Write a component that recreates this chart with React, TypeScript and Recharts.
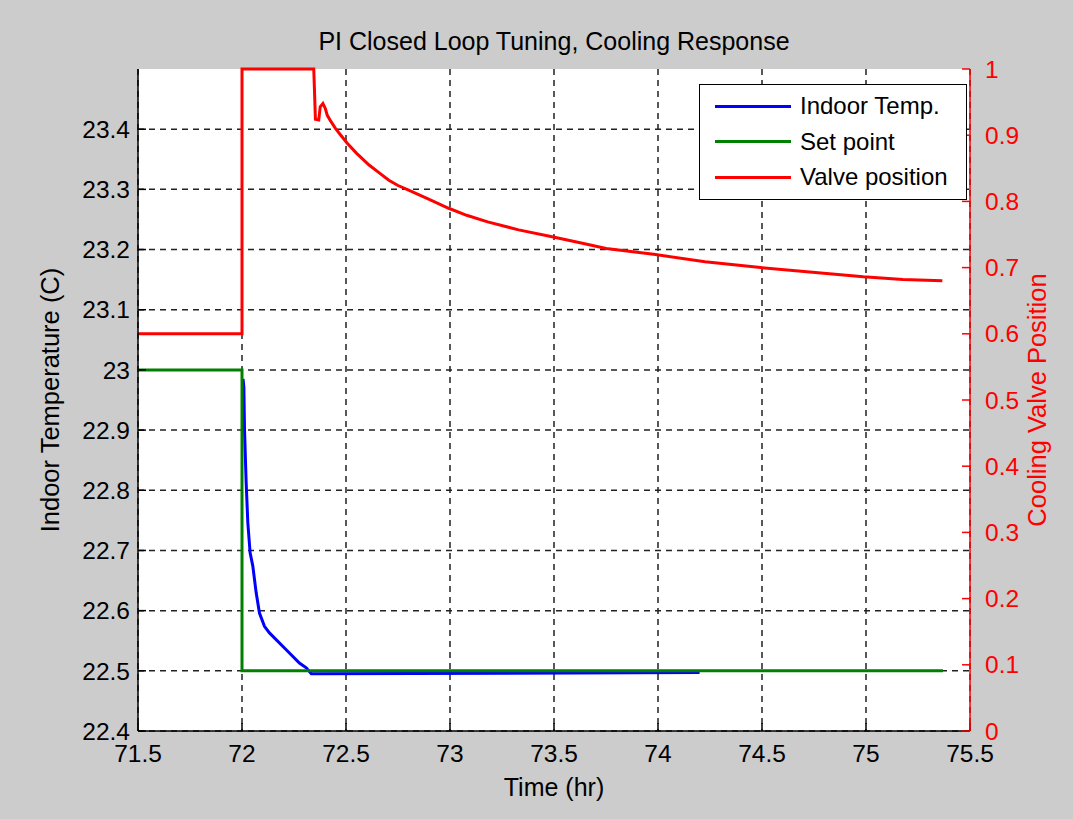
import React from 'react';
import { ComposedChart, Line, XAxis, YAxis, CartesianGrid, Legend } from 'recharts';

const FONT = '"Liberation Sans", Arial, Helvetica, sans-serif';

const timeTicks = [71.5, 72, 72.5, 73, 73.5, 74, 74.5, 75, 75.5];
const tempTicks = [22.4, 22.5, 22.6, 22.7, 22.8, 22.9, 23, 23.1, 23.2, 23.3, 23.4];
const valveTicks = [0, 0.1, 0.2, 0.3, 0.4, 0.5, 0.6, 0.7, 0.8, 0.9, 1];

const indoorTime = [72.005, 72.009, 72.012, 72.02, 72.028, 72.039, 72.052, 72.068, 72.084, 72.108, 72.132, 72.2125, 72.276, 72.309, 72.333, 72.364, 74.2];
const indoorTemp = [22.985, 22.971, 22.902, 22.813, 22.746, 22.696, 22.674, 22.63, 22.596, 22.574, 22.563, 22.535, 22.513, 22.505, 22.495, 22.495, 22.497];

const setTime = [71.5, 72, 72, 75.37];
const setTemp = [23, 23, 22.5, 22.5];

const valveTime = [
  71.5, 72, 72, 72.345, 72.353, 72.369, 72.376, 72.389, 72.401, 72.41, 72.425, 72.45, 72.475, 72.506,
  72.55, 72.611, 72.66, 72.706, 72.75, 72.801, 72.9, 72.991, 73.08, 73.181, 73.33, 73.485, 73.62, 73.751,
  73.979, 74.226, 74.493, 74.702, 74.987, 75.177, 75.367,
];
const valvePos = [
  0.6, 0.6, 1.0, 1.0, 0.924, 0.923, 0.943, 0.948, 0.94, 0.93, 0.922, 0.91, 0.9, 0.888,
  0.873, 0.855, 0.843, 0.832, 0.824, 0.817, 0.803, 0.79, 0.779, 0.769, 0.757, 0.747, 0.738, 0.729,
  0.72, 0.709, 0.7, 0.694, 0.686, 0.682, 0.68,
];

const seriesNames = ['Indoor Temp.', 'Set point', 'Valve position'];
const seriesColors = ['#0000ff', '#008000', '#ff0000'];

const zip = (ts: number[], vs: number[]) => ts.map((t, i) => ({ t, v: vs[i] }));
const indoorData = zip(indoorTime, indoorTemp);
const setData = zip(setTime, setTemp);
const valveData = zip(valveTime, valvePos);

const LegendBox = (props: any) => {
  const payload = props.payload || [];
  return (
    <div
      style={{
        width: 268,
        height: 116,
        border: '1.5px solid #000',
        background: '#fff',
        boxSizing: 'border-box',
        position: 'relative',
        fontFamily: FONT,
      }}
    >
      {payload.map((p: any, i: number) => (
        <div
          key={i}
          style={{
            position: 'absolute',
            left: 15,
            top: 21 + i * 35.5 - 15,
            height: 30,
            display: 'flex',
            alignItems: 'center',
            whiteSpace: 'nowrap',
          }}
        >
          <div style={{ width: 76, height: 3, background: p.color }} />
          <span style={{ marginLeft: 9, fontSize: 24, color: '#000', lineHeight: '30px' }}>{p.value}</span>
        </div>
      ))}
    </div>
  );
};

export default function App() {
  return (
    <div
      style={{
        position: 'absolute',
        left: 0,
        top: 0,
        width: 1073,
        height: 819,
        background: '#cccccc',
        fontFamily: FONT,
        overflow: 'hidden',
      }}
    >
      <div
        style={{
          position: 'absolute',
          left: 138,
          top: 27,
          width: 832,
          textAlign: 'center',
          fontSize: 25,
          lineHeight: '28px',
          color: '#000',
          zIndex: 2,
        }}
      >
        PI Closed Loop Tuning, Cooling Response
      </div>
      <ComposedChart
        width={1073}
        height={819}
        margin={{ top: 69, right: 0, bottom: 0, left: 0 }}
        style={{ fontFamily: FONT }}
      >
        <CartesianGrid
          xAxisId="main"
          yAxisId="temp"
          fill="#ffffff"
          stroke="#222"
          strokeWidth={1.5}
          strokeDasharray="6 5"
          horizontalValues={tempTicks}
          verticalValues={timeTicks}
        />
        <XAxis
          xAxisId="main"
          type="number"
          dataKey="t"
          domain={[71.5, 75.5]}
          ticks={timeTicks}
          interval={0}
          height={88}
          tickSize={-8}
          tickMargin={22}
          axisLine={{ stroke: '#000', strokeWidth: 1.5 }}
          tickLine={{ stroke: '#000', strokeWidth: 1.5 }}
          tick={{ fill: '#000', fontSize: 24.5 }}
          label={{ value: 'Time (hr)', position: 'insideTop', offset: 47, fill: '#000', fontSize: 25 }}
        />
        <XAxis
          xAxisId="top"
          orientation="top"
          type="number"
          dataKey="t"
          domain={[71.5, 75.5]}
          ticks={timeTicks}
          interval={0}
          height={0}
          tickSize={-8}
          tickFormatter={() => ''}
          axisLine={{ stroke: '#000', strokeWidth: 1.5 }}
          tickLine={{ stroke: '#000', strokeWidth: 1.5 }}
        />
        <YAxis
          yAxisId="temp"
          orientation="left"
          type="number"
          domain={[22.4, 23.5]}
          ticks={tempTicks}
          interval={0}
          width={138}
          tickSize={-8}
          tickMargin={16}
          axisLine={{ stroke: '#000', strokeWidth: 1.5 }}
          tickLine={{ stroke: '#000', strokeWidth: 1.5 }}
          tick={{ fill: '#000', fontSize: 24.5 }}
          label={{
            value: 'Indoor Temperature (C)',
            angle: -90,
            position: 'insideLeft',
            offset: 50,
            fill: '#000',
            fontSize: 25.5,
            style: { textAnchor: 'middle' },
          }}
        />
        <YAxis
          yAxisId="tempR"
          orientation="right"
          type="number"
          domain={[22.4, 23.5]}
          ticks={tempTicks}
          interval={0}
          width={0}
          tickSize={-8}
          tickFormatter={() => ''}
          axisLine={false}
          tickLine={{ stroke: '#000', strokeWidth: 1.5 }}
        />
        <YAxis
          yAxisId="valve"
          orientation="right"
          type="number"
          domain={[0, 1]}
          ticks={valveTicks}
          interval={0}
          width={103}
          tickSize={-8}
          tickMargin={23}
          axisLine={{ stroke: '#ff0000', strokeWidth: 1.5 }}
          tickLine={{ stroke: '#ff0000', strokeWidth: 1.5 }}
          tick={{ fill: '#ff0000', fontSize: 24.5 }}
          label={{
            value: 'Cooling Valve Position',
            angle: -90,
            position: 'insideRight',
            offset: 36,
            fill: '#ff0000',
            fontSize: 25.5,
            style: { textAnchor: 'middle' },
          }}
        />
        <Legend
          layout="vertical"
          align="center"
          verticalAlign="middle"
          wrapperStyle={{ left: 699, top: 84, width: 268, height: 116 }}
          content={<LegendBox />}
        />
        <Line
          data={indoorData}
          xAxisId="main"
          yAxisId="temp"
          dataKey="v"
          name={seriesNames[0]}
          stroke={seriesColors[0]}
          strokeWidth={3}
          dot={false}
          type="linear"
          isAnimationActive={false}
        />
        <Line
          data={setData}
          xAxisId="main"
          yAxisId="temp"
          dataKey="v"
          name={seriesNames[1]}
          stroke={seriesColors[1]}
          strokeWidth={3}
          dot={false}
          type="linear"
          isAnimationActive={false}
        />
        <Line
          data={valveData}
          xAxisId="main"
          yAxisId="valve"
          dataKey="v"
          name={seriesNames[2]}
          stroke={seriesColors[2]}
          strokeWidth={3}
          dot={false}
          type="linear"
          isAnimationActive={false}
        />
      </ComposedChart>
    </div>
  );
}
